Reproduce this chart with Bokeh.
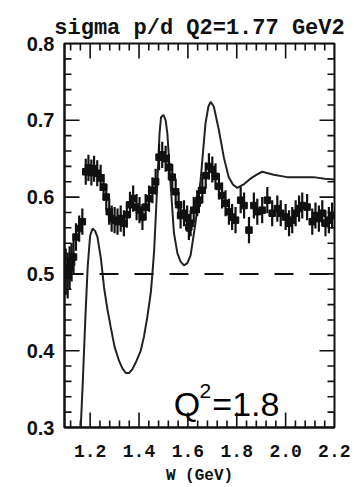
import math
from bokeh.plotting import figure
from bokeh.models import (ColumnDataSource, LinearAxis, FixedTicker,
                          PrintfTickFormatter, Span, Label, Range1d)
from bokeh.embed import file_html
from bokeh.resources import INLINE

# ---- data ----
w_data = [1.100, 1.108, 1.116, 1.124, 1.132, 1.142, 1.155, 1.168, 1.182, 1.193,
          1.205, 1.216, 1.229, 1.243, 1.255, 1.266, 1.278, 1.288, 1.300, 1.312,
          1.325, 1.338, 1.350, 1.363, 1.376, 1.390, 1.402, 1.414, 1.427, 1.441,
          1.455, 1.468, 1.482, 1.495, 1.509, 1.522, 1.536, 1.550, 1.562, 1.570,
          1.584, 1.597, 1.604, 1.611, 1.624, 1.638, 1.645, 1.659, 1.673, 1.686,
          1.700, 1.713, 1.727, 1.740, 1.754, 1.768, 1.781, 1.795, 1.816, 1.830,
          1.850, 1.870, 1.884, 1.904, 1.925, 1.945, 1.966, 1.980, 2.000, 2.014,
          2.027, 2.041, 2.055, 2.068, 2.088, 2.109, 2.122, 2.136, 2.150, 2.163,
          2.177, 2.190]
ratio = [0.503, 0.498, 0.508, 0.515, 0.522, 0.548, 0.559, 0.568, 0.633, 0.638,
         0.632, 0.637, 0.631, 0.625, 0.613, 0.600, 0.581, 0.572, 0.570, 0.568,
         0.572, 0.566, 0.577, 0.590, 0.598, 0.587, 0.583, 0.574, 0.587, 0.598,
         0.609, 0.620, 0.652, 0.655, 0.650, 0.639, 0.626, 0.607, 0.590, 0.576,
         0.579, 0.572, 0.561, 0.566, 0.583, 0.592, 0.596, 0.609, 0.628, 0.640,
         0.636, 0.627, 0.614, 0.602, 0.592, 0.581, 0.574, 0.570, 0.596, 0.589,
         0.557, 0.589, 0.581, 0.583, 0.596, 0.579, 0.585, 0.579, 0.574, 0.566,
         0.570, 0.579, 0.585, 0.589, 0.587, 0.568, 0.576, 0.572, 0.579, 0.566,
         0.570, 0.576]
ratio_err = [0.030, 0.030, 0.028, 0.025, 0.022, 0.018, 0.017, 0.017, 0.017, 0.017,
             0.017, 0.017, 0.017, 0.017, 0.017, 0.017, 0.017, 0.017, 0.017, 0.017,
             0.017, 0.017, 0.017, 0.017, 0.017, 0.017, 0.017, 0.017, 0.017, 0.017,
             0.017, 0.017, 0.017, 0.017, 0.017, 0.017, 0.017, 0.017, 0.017, 0.017,
             0.017, 0.017, 0.017, 0.017, 0.017, 0.017, 0.017, 0.017, 0.017, 0.017,
             0.017, 0.017, 0.017, 0.017, 0.017, 0.017, 0.017, 0.017, 0.017, 0.017,
             0.017, 0.017, 0.017, 0.017, 0.017, 0.017, 0.017, 0.017, 0.017, 0.017,
             0.017, 0.017, 0.017, 0.017, 0.017, 0.017, 0.017, 0.017, 0.017, 0.017,
             0.017, 0.017]

w_model = [1.160, 1.170, 1.180, 1.190, 1.200, 1.210, 1.220, 1.230, 1.244, 1.257,
           1.270, 1.284, 1.300, 1.318, 1.332, 1.346, 1.360, 1.373, 1.390, 1.407,
           1.420, 1.434, 1.448, 1.455, 1.462, 1.475, 1.484, 1.490, 1.500, 1.509,
           1.516, 1.529, 1.543, 1.557, 1.570, 1.584, 1.598, 1.611, 1.631, 1.652,
           1.672, 1.684, 1.693, 1.706, 1.727, 1.747, 1.767, 1.785, 1.802, 1.830,
           1.856, 1.880, 1.904, 1.951, 2.006, 2.060, 2.114, 2.160, 2.200]
model = [0.290, 0.360, 0.440, 0.510, 0.550, 0.559, 0.556, 0.548, 0.520, 0.482,
         0.455, 0.431, 0.405, 0.387, 0.377, 0.371, 0.371, 0.376, 0.387, 0.400,
         0.418, 0.444, 0.475, 0.501, 0.531, 0.618, 0.683, 0.704, 0.707, 0.700,
         0.683, 0.618, 0.553, 0.527, 0.516, 0.511, 0.514, 0.524, 0.566, 0.622,
         0.696, 0.718, 0.724, 0.718, 0.687, 0.652, 0.626, 0.616, 0.612, 0.617,
         0.624, 0.629, 0.633, 0.629, 0.626, 0.626, 0.626, 0.624, 0.623]

ref_level = 0.5
x_ticks = [1.2, 1.4, 1.6, 1.8, 2.0, 2.2]
y_ticks = [0.3, 0.4, 0.5, 0.6, 0.7, 0.8]
x_minor_step = 0.04
y_minor_step = 0.02
title_text = "sigma p/d Q2=1.77 GeV2"
x_label = "W (GeV)"
note_parts = ["Q", "2", "=1.8"]

X_LO, X_HI = 1.095, 2.2
Y_LO, Y_HI = 0.3, 0.8

INK = "#111111"
MONO = "Liberation Mono"
SANS = "Liberation Sans"

p = figure(width=350, height=487, output_backend="svg", toolbar_location=None,
           x_range=Range1d(X_LO, X_HI), y_range=Range1d(Y_LO, Y_HI),
           x_axis_type=None, y_axis_type=None,
           min_border_left=64, min_border_right=16, min_border_top=43,
           min_border_bottom=60)
p.background_fill_color = "white"
p.border_fill_color = "white"
p.outline_line_color = INK
p.outline_line_width = 2
p.xgrid.visible = False
p.ygrid.visible = False

p.title.text = title_text
p.title.align = "center"
p.title.text_font = MONO
p.title.text_font_style = "bold"
p.title.text_font_size = "22px"
p.title.text_color = INK
p.title.standoff = 6


def plain_axis(ax):
    ax.axis_line_color = INK
    ax.axis_line_width = 2
    ax.major_tick_line_color = None
    ax.minor_tick_line_color = None
    ax.major_tick_out = 0
    ax.minor_tick_out = 0
    ax.major_tick_in = 0
    ax.minor_tick_in = 0


xb = LinearAxis(ticker=FixedTicker(ticks=x_ticks),
                formatter=PrintfTickFormatter(format="%.1f"))
plain_axis(xb)
xb.major_label_text_font = MONO
xb.major_label_text_font_style = "bold"
xb.major_label_text_font_size = "18px"
xb.major_label_text_color = INK
xb.major_label_standoff = 17
xb.axis_label = x_label
xb.axis_label_text_font = MONO
xb.axis_label_text_font_style = "bold"
xb.axis_label_text_font_size = "16px"
xb.axis_label_text_color = INK
xb.axis_label_standoff = 7
p.add_layout(xb, "below")

yl = LinearAxis(ticker=FixedTicker(ticks=y_ticks),
                formatter=PrintfTickFormatter(format="%.1f"))
plain_axis(yl)
yl.major_label_text_font = SANS
yl.major_label_text_font_style = "bold"
yl.major_label_text_font_size = "20px"
yl.major_label_text_color = INK
yl.major_label_standoff = 10
p.add_layout(yl, "left")

# ---- inward ticks on all four sides (dash markers, clipped by the frame) ----
def frange(a, b, step):
    n = int(round((b - a) / step))
    return [a + i * step for i in range(n + 1)]

x_minor = [v for v in frange(1.12, X_HI, x_minor_step)
           if all(abs(v - t) > 1e-6 for t in x_ticks)]
y_minor = [v for v in frange(Y_LO, Y_HI, y_minor_step)
           if all(abs(v - t) > 1e-6 for t in y_ticks)]

for xs, size in ((x_ticks, 30), (x_minor, 14)):
    for yy in (Y_LO, Y_HI):
        p.scatter(xs, [yy] * len(xs), marker="dash", size=size, angle=math.pi / 2,
                  line_color=INK, line_width=1.6)
for ys, size in ((y_ticks, 30), (y_minor, 14)):
    for xx in (X_LO, X_HI):
        p.scatter([xx] * len(ys), ys, marker="dash", size=size,
                  line_color=INK, line_width=1.6)

# dashed reference line
p.add_layout(Span(location=ref_level, dimension="width", line_color=INK,
                  line_width=2, line_dash="19 16"))

# model curve
p.line(w_model, model, line_color="#222222", line_width=2)

# data with error bars
src = ColumnDataSource(dict(
    w=w_data, r=ratio,
    lo=[r - e for r, e in zip(ratio, ratio_err)],
    hi=[r + e for r, e in zip(ratio, ratio_err)],
))
p.segment(x0="w", y0="lo", x1="w", y1="hi", source=src,
          line_color=INK, line_width=2.2)
p.scatter(x="w", y="r", source=src, marker="square", size=6.5,
          fill_color=INK, line_color=INK)

# Q^2 = 1.8 annotation
p.add_layout(Label(x=1.542, y=0.331, text=note_parts[0], text_font=SANS,
                   text_font_size="34px", text_color="#000000",
                   text_baseline="alphabetic"))
p.add_layout(Label(x=1.647, y=0.347, text=note_parts[1], text_font=SANS,
                   text_font_size="21px", text_color="#000000",
                   text_baseline="alphabetic"))
p.add_layout(Label(x=1.700, y=0.331, text=note_parts[2], text_font=SANS,
                   text_font_size="34px", text_color="#000000",
                   text_baseline="alphabetic"))

open("out.html", "w").write(file_html(p, INLINE))
